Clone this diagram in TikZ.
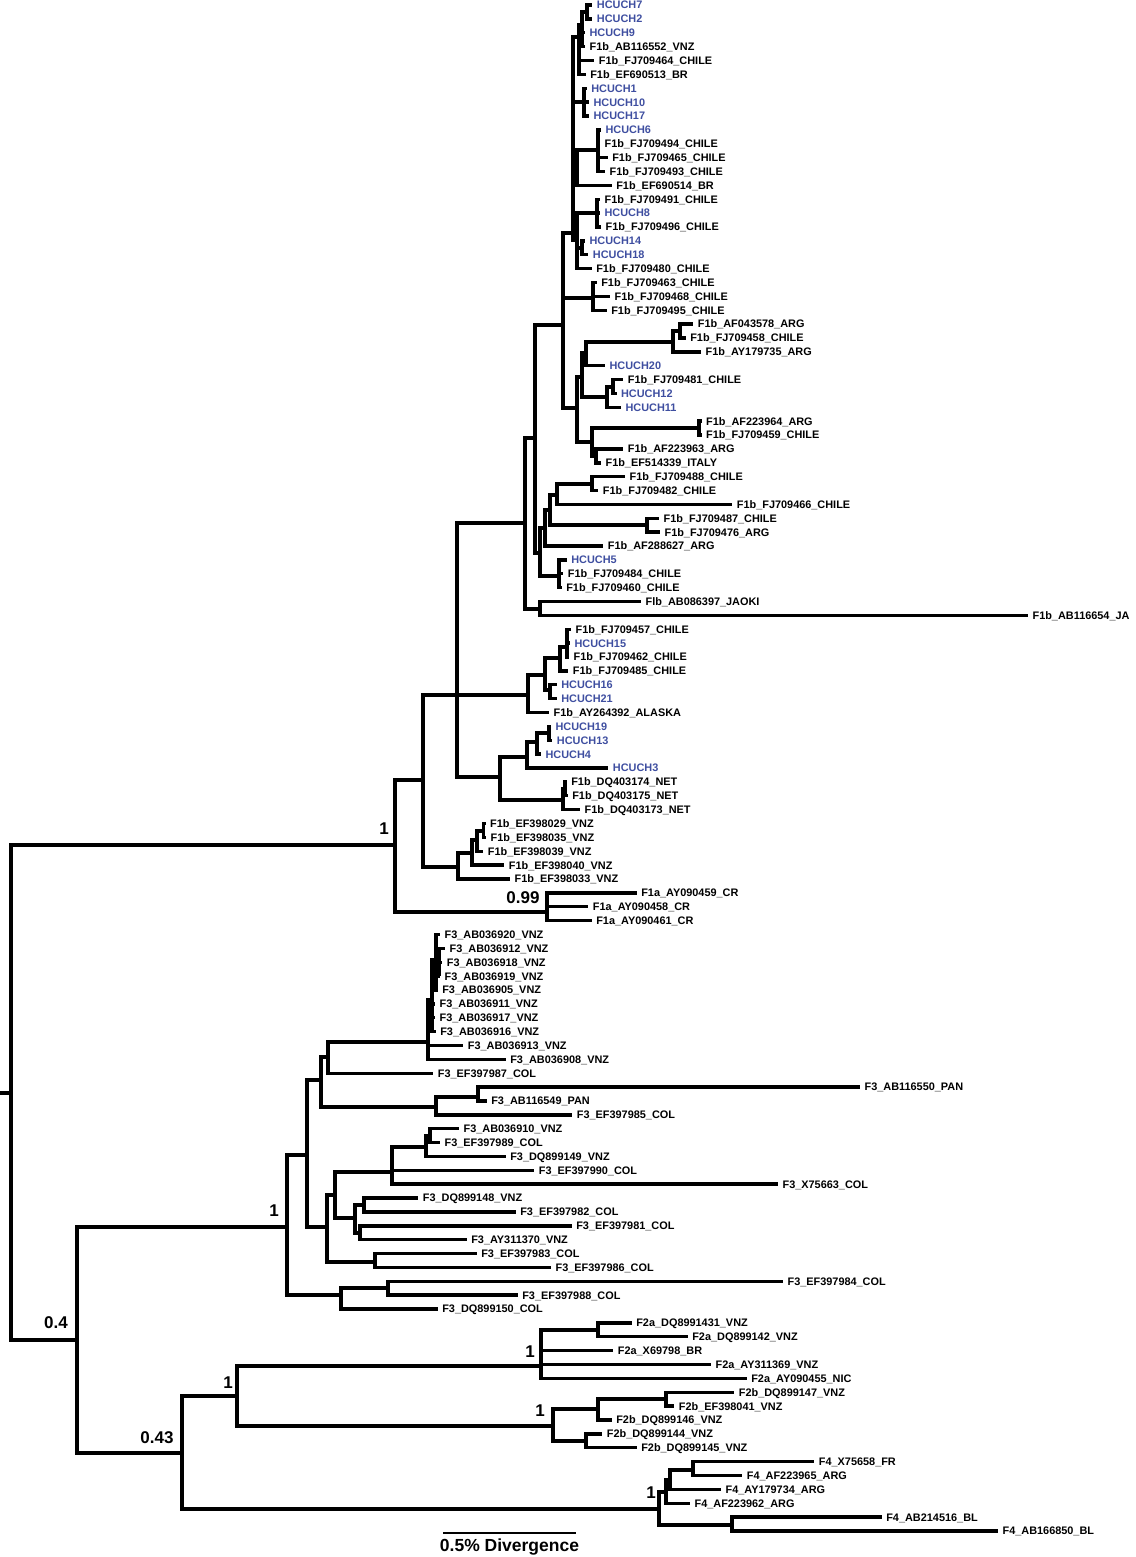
\documentclass[tikz,border=0pt]{standalone}
\usepackage{fontspec}
\setmainfont{Liberation Sans}
\definecolor{hcuch}{RGB}{62,78,160}
\tikzstyle{branch} = [draw,line width=3.4pt,to path={|- (\tikztotarget)}]
\tikzstyle{leaf} = [anchor=base west,inner sep=0pt,xshift=4.4pt,yshift=-3.9pt,font=\fontsize{10.9}{12}\selectfont\bfseries]
\tikzstyle{support} = [inner sep=0pt,font=\fontsize{17}{19}\selectfont\bfseries]
\tikzstyle{scalebar} = [draw,line width=2.6pt]

\begin{document}
\begin{tikzpicture}[x=1pt,y=-1pt]
    \useasboundingbox (0,0) rectangle (1135,1557);
    %% inner nodes
    \foreach \name/\x/\y in {
      a2/587/12, a1/582/25, a/579/37, b/584/102, c1/598/150, c/577/168,
      d1/597/213, d2/582/248, d/577/240, u/573/233, g/593/298, n563/563/325,
      e3/680/331, e2/673/342, e1/586/353, f2/613/387, f1/607/397, e/582/377,
      k1/699/428, k2/596/456, k/592/442, n578/577/408,
      m1/592/484, m2/557/495, m3/647/525, m4/550/510, m5/545/528, p/559/576,
      n540/540/553, n535/535/438, j/540/609, n525/525/523,
      q3/567/647, q2/560/658, q4/550/690, q1/545/675, q/528/695,
      r3/549/733, r2/537/742, r1/527/757, s1/565/789, s/563/800, r/500/777, n457/457/695,
      t3/483.5/831, t2/477/840, t1/472/853, t/458/867, n423/423/780, f1a/547/912, n395/395/845,
      v4/439/963, v3/436/960, v2/432/1000, v1/428/1042, v/328/1057,
      w1/478/1097, w/436/1107, n321/321/1080,
      x3/430/1136, x2/426/1147, x1/392/1172, y1/364/1205, y2/360/1233, yy/355/1218,
      x/335/1195, z/375/1262, n327/327/1227, n307/307/1155, o1/388/1288, o/341/1295, n287/287/1227,
      fa1/598/1330, fa/541/1366, fb3/666/1399, fb2/598/1409, fb4/586/1441, fb/553/1426, n237/237/1396,
      g3/693/1470, g2/670/1480, g1/666/1492, g4/732/1525, gg/659/1509,
      n182/182/1453, n77/77/1340, root/11/1093, stub/0/1093}
    {
      \coordinate (\name) at (\x,\y);
    }
    %% leaves
    \foreach \i/\name/\x/\txt/\col in {
      1/h7/592.3/HCUCH7/hcuch, 2/h2/592.3/HCUCH2/hcuch, 3/h9/585/HCUCH9/hcuch,
      4/AB116552/585/F1b\_AB116552\_VNZ/black, 5/FJ709464/594.3/F1b\_FJ709464\_CHILE/black,
      6/EF690513/585.7/F1b\_EF690513\_BR/black,
      7/h1/586.7/HCUCH1/hcuch, 8/h10/589/HCUCH10/hcuch, 9/h17/589/HCUCH17/hcuch,
      10/h6/601/HCUCH6/hcuch, 11/FJ709494/600/F1b\_FJ709494\_CHILE/black,
      12/FJ709465/607.7/F1b\_FJ709465\_CHILE/black, 13/FJ709493/605/F1b\_FJ709493\_CHILE/black,
      14/EF690514/611.7/F1b\_EF690514\_BR/black, 15/FJ709491/600/F1b\_FJ709491\_CHILE/black,
      16/h8/600/HCUCH8/hcuch, 17/FJ709496/601/F1b\_FJ709496\_CHILE/black,
      18/h14/585/HCUCH14/hcuch, 19/h18/588.3/HCUCH18/hcuch,
      20/FJ709480/591.7/F1b\_FJ709480\_CHILE/black, 21/FJ709463/596.7/F1b\_FJ709463\_CHILE/black,
      22/FJ709468/610/F1b\_FJ709468\_CHILE/black, 23/FJ709495/606.7/F1b\_FJ709495\_CHILE/black,
      24/AF043578/693.3/F1b\_AF043578\_ARG/black, 25/FJ709458/685.7/F1b\_FJ709458\_CHILE/black,
      26/AY179735/701/F1b\_AY179735\_ARG/black, 27/h20/605/HCUCH20/hcuch,
      28/FJ709481/623.3/F1b\_FJ709481\_CHILE/black, 29/h12/616.5/HCUCH12/hcuch,
      30/h11/621/HCUCH11/hcuch, 31/AF223964/701.5/F1b\_AF223964\_ARG/black,
      32/FJ709459/701.5/F1b\_FJ709459\_CHILE/black, 33/AF223963/623.3/F1b\_AF223963\_ARG/black,
      34/EF514339/601/F1b\_EF514339\_ITALY/black, 35/FJ709488/625/F1b\_FJ709488\_CHILE/black,
      36/FJ709482/598.3/F1b\_FJ709482\_CHILE/black, 37/FJ709466/732.3/F1b\_FJ709466\_CHILE/black,
      38/FJ709487/659/F1b\_FJ709487\_CHILE/black, 39/FJ709476/660/F1b\_FJ709476\_ARG/black,
      40/AF288627/603.3/F1b\_AF288627\_ARG/black, 41/h5/566.7/HCUCH5/hcuch,
      42/FJ709484/563.3/F1b\_FJ709484\_CHILE/black, 43/FJ709460/561.7/F1b\_FJ709460\_CHILE/black,
      44/AB086397/641/Flb\_AB086397\_JAOKI/black, 45/AB116654/1028/F1b\_AB116654\_JA/black,
      46/FJ709457/571/F1b\_FJ709457\_CHILE/black, 47/h15/570/HCUCH15/hcuch,
      48/FJ709462/569/F1b\_FJ709462\_CHILE/black, 49/FJ709485/568.3/F1b\_FJ709485\_CHILE/black,
      50/h16/556.7/HCUCH16/hcuch, 51/h21/556.7/HCUCH21/hcuch,
      52/AY264392/549/F1b\_AY264392\_ALASKA/black, 53/h19/551/HCUCH19/hcuch,
      54/h13/552.3/HCUCH13/hcuch, 55/h4/541/HCUCH4/hcuch, 56/h3/608.3/HCUCH3/hcuch,
      57/DQ403174/566.7/F1b\_DQ403174\_NET/black, 58/DQ403175/567.7/F1b\_DQ403175\_NET/black,
      59/DQ403173/580/F1b\_DQ403173\_NET/black, 60/EF398029/485.5/F1b\_EF398029\_VNZ/black,
      61/EF398035/486/F1b\_EF398035\_VNZ/black, 62/EF398039/483.3/F1b\_EF398039\_VNZ/black,
      63/EF398040/504.3/F1b\_EF398040\_VNZ/black, 64/EF398033/510/F1b\_EF398033\_VNZ/black,
      65/AY090459/636.7/F1a\_AY090459\_CR/black, 66/AY090458/588.3/F1a\_AY090458\_CR/black,
      67/AY090461/591.7/F1a\_AY090461\_CR/black,
      68/AB036920/440/F3\_AB036920\_VNZ/black, 69/AB036912/445/F3\_AB036912\_VNZ/black,
      70/AB036918/442.3/F3\_AB036918\_VNZ/black, 71/AB036919/440/F3\_AB036919\_VNZ/black,
      72/AB036905/437.7/F3\_AB036905\_VNZ/black, 73/AB036911/435/F3\_AB036911\_VNZ/black,
      74/AB036917/435/F3\_AB036917\_VNZ/black, 75/AB036916/435.7/F3\_AB036916\_VNZ/black,
      76/AB036913/463.3/F3\_AB036913\_VNZ/black, 77/AB036908/505.7/F3\_AB036908\_VNZ/black,
      78/EF397987/433.3/F3\_EF397987\_COL/black, 79/AB116550/860/F3\_AB116550\_PAN/black,
      80/AB116549/486.7/F3\_AB116549\_PAN/black, 81/EF397985/572.3/F3\_EF397985\_COL/black,
      82/AB036910/459/F3\_AB036910\_VNZ/black, 83/EF397989/440/F3\_EF397989\_COL/black,
      84/DQ899149/505.7/F3\_DQ899149\_VNZ/black, 85/EF397990/534.3/F3\_EF397990\_COL/black,
      86/X75663/778/F3\_X75663\_COL/black, 87/DQ899148/418.3/F3\_DQ899148\_VNZ/black,
      88/EF397982/515.7/F3\_EF397982\_COL/black, 89/EF397981/571.7/F3\_EF397981\_COL/black,
      90/AY311370/466.7/F3\_AY311370\_VNZ/black, 91/EF397983/476.7/F3\_EF397983\_COL/black,
      92/EF397986/551/F3\_EF397986\_COL/black, 93/EF397984/783/F3\_EF397984\_COL/black,
      94/EF397988/517.7/F3\_EF397988\_COL/black, 95/DQ899150/437.7/F3\_DQ899150\_COL/black,
      96/DQ8991431/631.7/F2a\_DQ8991431\_VNZ/black, 97/DQ899142/687.7/F2a\_DQ899142\_VNZ/black,
      98/X69798/613.3/F2a\_X69798\_BR/black, 99/AY311369/711/F2a\_AY311369\_VNZ/black,
      100/AY090455/746.7/F2a\_AY090455\_NIC/black, 101/DQ899147/734.3/F2b\_DQ899147\_VNZ/black,
      102/EF398041/674.3/F2b\_EF398041\_VNZ/black, 103/DQ899146/611.7/F2b\_DQ899146\_VNZ/black,
      104/DQ899144/602.3/F2b\_DQ899144\_VNZ/black, 105/DQ899145/636.7/F2b\_DQ899145\_VNZ/black,
      106/X75658/814.3/F4\_X75658\_FR/black, 107/AF223965/742.3/F4\_AF223965\_ARG/black,
      108/AY179734/721/F4\_AY179734\_ARG/black, 109/AF223962/690/F4\_AF223962\_ARG/black,
      110/AB214516/881.7/F4\_AB214516\_BL/black, 111/AB166850/998/F4\_AB166850\_BL/black}
    {
      \coordinate (\name) at (\x,{5+13.8727*(\i-1)});
      \node[leaf, text=\col] (l\name) at (\name) {\txt};
    }
    %branches
    \draw[branch] (stub) -- (root);
    \path
    \foreach \startnode/\endnode in {
      root/n395, root/n77, n395/n423, n395/f1a, n423/n457, n423/t,
      n457/n525, n457/q, n457/r, n525/n535, n525/j, n535/n563, n535/n540,
      n563/u, n563/g, n563/n578, u/a, u/b, u/c, u/d,
      a/a1, a/FJ709464, a/EF690513, a1/a2, a1/h9, a1/AB116552, a2/h7, a2/h2,
      b/h1, b/h10, b/h17, c/c1, c/EF690514, c1/h6, c1/FJ709494, c1/FJ709465, c1/FJ709493,
      d/d1, d/d2, d/FJ709480, d1/FJ709491, d1/h8, d1/FJ709496, d2/h14, d2/h18,
      g/FJ709463, g/FJ709468, g/FJ709495, n578/e, n578/k, e/e1, e/f1,
      e1/e2, e1/h20, e2/e3, e2/AY179735, e3/AF043578, e3/FJ709458,
      f1/f2, f1/h11, f2/FJ709481, f2/h12, k/k1, k/k2, k1/AF223964, k1/FJ709459,
      k2/AF223963, k2/EF514339, n540/m5, n540/p, m5/m4, m5/AF288627, m4/m2, m4/m3,
      m2/m1, m2/FJ709466, m1/FJ709488, m1/FJ709482, m3/FJ709487, m3/FJ709476,
      p/h5, p/FJ709484, p/FJ709460, j/AB086397, j/AB116654,
      q/q1, q/AY264392, q1/q2, q1/q4, q2/q3, q2/FJ709485, q3/FJ709457, q3/h15, q3/FJ709462,
      q4/h16, q4/h21, r/r1, r/s, r1/r2, r1/h3, r2/r3, r2/h4, r3/h19, r3/h13,
      s/s1, s/DQ403173, s1/DQ403174, s1/DQ403175, t/t1, t/EF398033, t1/t2, t1/EF398040,
      t2/t3, t2/EF398039, t3/EF398029, t3/EF398035, f1a/AY090459, f1a/AY090458, f1a/AY090461,
      n77/n287, n77/n182, n287/n307, n287/o, n307/n321, n307/n327, n321/v, n321/w,
      v/v1, v/EF397987, v1/v2, v1/AB036913, v1/AB036908, v2/v3, v2/AB036911, v2/AB036917, v2/AB036916,
      v3/AB036920, v3/v4, v3/AB036905, v4/AB036912, v4/AB036918, v4/AB036919,
      w/w1, w/EF397985, w1/AB116550, w1/AB116549, n327/x, n327/z, x/x1, x/yy,
      x1/x2, x1/EF397990, x1/X75663, x2/x3, x2/DQ899149, x3/AB036910, x3/EF397989,
      yy/y1, yy/y2, y1/DQ899148, y1/EF397982, y2/EF397981, y2/AY311370,
      z/EF397983, z/EF397986, o/o1, o/DQ899150, o1/EF397984, o1/EF397988,
      n182/n237, n182/gg, n237/fa, n237/fb, fa/fa1, fa/X69798, fa/AY311369, fa/AY090455,
      fa1/DQ8991431, fa1/DQ899142, fb/fb2, fb/fb4, fb2/fb3, fb2/DQ899146,
      fb3/DQ899147, fb3/EF398041, fb4/DQ899144, fb4/DQ899145,
      gg/g1, gg/g4, g1/g2, g1/AF223962, g2/g3, g2/AY179734, g3/X75658, g3/AF223965,
      g4/AB214516, g4/AB166850}
    {
      (\startnode) edge[branch] (\endnode)
    };
    %support values
    \foreach \name/\x/\y/\val in {
      bsF1/384/829/1, bsF1a/523/898/0.99, bsF3/274/1211/1, bsF234/56/1323/0.4,
      bsF24/157/1438/0.43, bsF2/228/1383/1, bsF2a/530/1352/1, bsF2b/540/1411/1, bsF4/651/1493/1}
    {
      \node[support] (\name) at (\x,\y) {\val};
    }
    %scale bar
    \coordinate (bar0) at (443,1533);
    \coordinate (bar1) at (576,1533);
    \draw[scalebar] (bar0) -- (bar1);
    \node[support, font=\fontsize{17.5}{19}\selectfont\bfseries] (barlabel) at (509.5,1547) {0.5\% Divergence};
\end{tikzpicture}
\end{document}
